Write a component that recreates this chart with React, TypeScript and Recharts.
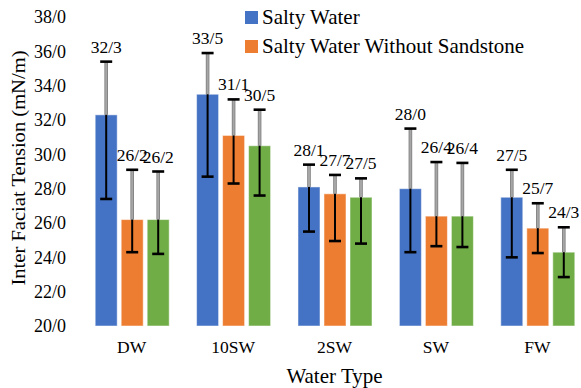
import { Bar, BarChart, Legend, XAxis, YAxis } from 'recharts';

const categories = ['DW', '10SW', '2SW', 'SW', 'FW'];

const saltyWater = [32.3, 33.5, 28.1, 28.0, 27.5];
const saltyPlus = [3.1, 2.4, 1.3, 3.5, 1.6];
const saltyMinus = [4.9, 4.8, 2.6, 3.7, 3.5];

const withoutSandstone = [26.2, 31.1, 27.7, 26.4, 25.7];
const withoutPlus = [2.9, 2.1, 1.1, 3.15, 1.45];
const withoutMinus = [1.9, 2.8, 2.75, 1.75, 1.45];

const series3 = [26.2, 30.5, 27.5, 26.4, 24.3];
const series3Plus = [2.8, 2.1, 1.1, 3.1, 1.45];
const series3Minus = [2.0, 2.9, 2.7, 1.8, 1.45];

const yTicks = [20, 22, 24, 26, 28, 30, 32, 34, 36, 38];
const Y_MIN = 20;

const data = categories.map((name, i) => ({
  name,
  salty: saltyWater[i],
  saltyUp: saltyPlus[i],
  saltyDown: saltyMinus[i],
  without: withoutSandstone[i],
  withoutUp: withoutPlus[i],
  withoutDown: withoutMinus[i],
  s3: series3[i],
  s3Up: series3Plus[i],
  s3Down: series3Minus[i],
}));

const FONT = '"Liberation Serif", "Times New Roman", serif';
const fmt = (v: number) => v.toFixed(1).replace('.', '/');

// bar + asymmetric error bar + value label, scaled from the bar's own pixel height
function barWithError(key: string) {
  return (props: any) => {
    const { x, y, width, height, fill, payload } = props;
    const v = payload[key];
    const unit = height / (v - Y_MIN);
    const top = y - payload[key + 'Up'] * unit;
    const bottom = y + payload[key + 'Down'] * unit;
    const cx = x + width / 2;
    return (
      <g>
        <rect x={x} y={y} width={width} height={height} fill={fill} stroke="#ffffff" strokeOpacity={0.5} strokeWidth={1} />
        <line x1={cx} x2={cx} y1={top} y2={y} stroke="#7f7f7f" strokeWidth={3.6} />
        <line x1={cx} x2={cx} y1={top} y2={y} stroke="#a6a6a6" strokeWidth={2} />
        <line x1={cx} x2={cx} y1={y} y2={bottom} stroke="#000" strokeWidth={2} />
        <line x1={cx - 6} x2={cx + 6} y1={top} y2={top} stroke="#000" strokeWidth={2.6} />
        <line x1={cx - 6} x2={cx + 6} y1={bottom} y2={bottom} stroke="#000" strokeWidth={2.6} />
        <text x={cx} y={top - 9} textAnchor="middle" fontSize={17.5} fontFamily={FONT} fill="#000">
          {fmt(v)}
        </text>
      </g>
    );
  };
}

function LegendBox(props: any) {
  const items = (props.payload || []).filter((p: any) => p.type !== 'none');
  return (
    <div style={{ fontFamily: FONT, fontSize: 21, color: '#000' }}>
      {items.map((p: any) => (
        <div key={p.value} style={{ display: 'flex', alignItems: 'center', height: 29, whiteSpace: 'nowrap' }}>
          <span style={{ display: 'inline-block', width: 13, height: 13, background: p.color, marginRight: 4 }} />
          {p.value}
        </div>
      ))}
    </div>
  );
}

export default function App() {
  return (
    <div style={{ position: 'absolute', left: 0, top: 0, width: 581, height: 388, overflow: 'hidden', background: '#fff' }}>
      <BarChart
        width={588}
        height={388}
        data={data}
        margin={{ top: 17, right: 0, left: 0, bottom: 0 }}
        barCategoryGap="14%"
        barGap={4}
      >
        <XAxis
          dataKey="name"
          height={62}
          axisLine={false}
          tickLine={false}
          tickSize={0}
          tickMargin={15}
          tick={{ fontSize: 17.5, fontFamily: FONT, fill: '#000' }}
          label={(p: any) => {
            const vb = p.viewBox;
            return (
              <text x={vb.x + vb.width / 2} y={383} textAnchor="middle" fontSize={21} fontFamily={FONT} fill="#000">
                Water Type
              </text>
            );
          }}
        />
        <YAxis
          width={81}
          domain={[20, 38]}
          ticks={yTicks}
          axisLine={false}
          tickLine={false}
          tickSize={0}
          tickMargin={15}
          tickFormatter={fmt}
          tick={{ fontSize: 18, fontFamily: FONT, fill: '#000' }}
          label={() => (
            <text
              x={25}
              y={168}
              transform="rotate(-90 25 168)"
              textAnchor="middle"
              fontSize={19}
              fontFamily={FONT}
              fill="#000"
              textLength={235}
              lengthAdjust="spacingAndGlyphs"
            >
              Inter Faciat Tension (mN/m)
            </text>
          )}
        />
        <Legend
          layout="vertical"
          align="center"
          verticalAlign="middle"
          content={LegendBox}
          wrapperStyle={{ top: 3, left: 245, width: 330 }}
        />
        <Bar dataKey="salty" name="Salty Water" fill="#4472C4" shape={barWithError('salty')} isAnimationActive={false} />
        <Bar dataKey="without" name="Salty Water Without Sandstone" fill="#ED7D31" shape={barWithError('without')} isAnimationActive={false} />
        <Bar dataKey="s3" name="Series3" fill="#70AD47" legendType="none" shape={barWithError('s3')} isAnimationActive={false} />
      </BarChart>
    </div>
  );
}
